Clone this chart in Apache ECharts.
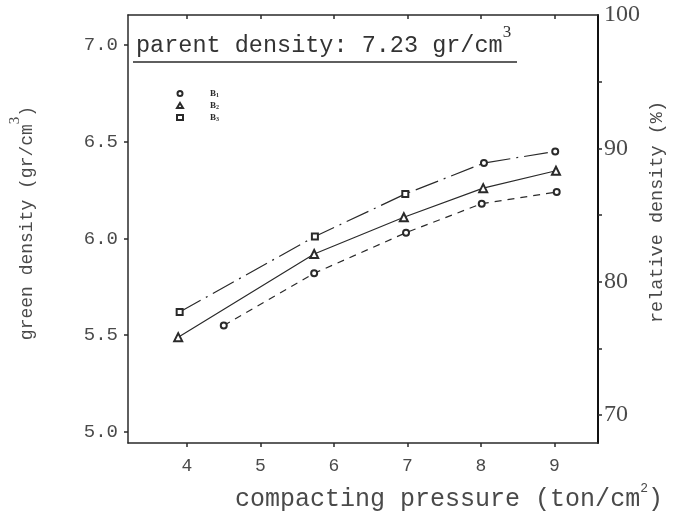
<!DOCTYPE html>
<html><head><meta charset="utf-8">
<script src="https://cdn.jsdelivr.net/npm/echarts@6/dist/echarts.min.js"></script>
<style>html,body{margin:0;padding:0;background:#fff}#c{width:675px;height:513px}</style>
</head><body><div id="c"></div>
<script>
const seriesNames = ['B1', 'B2', 'B3'];
const pressureB1 = [4.50, 5.73, 6.98, 8.01, 9.03];
const densityB1 = [5.55, 5.82, 6.03, 6.18, 6.24];
const pressureB2 = [3.88, 5.73, 6.95, 8.03, 9.02];
const densityB2 = [5.49, 5.92, 6.11, 6.26, 6.35];
const pressureB3 = [3.90, 5.74, 6.97, 8.04, 9.01];
const densityB3 = [5.62, 6.01, 6.23, 6.39, 6.45];
const xTicks = [4, 5, 6, 7, 8, 9];
const leftTicks = [5.0, 5.5, 6.0, 6.5, 7.0];
const rightTicks = [70, 75, 80, 85, 90, 95];
const rightLabels = [70, 80, 90, 100];
const parentDensity = '7.23';

const ink = '#2a2a2a';
const txt = '#4a4a4a';
const mono = '"Liberation Mono", "DejaVu Sans Mono", monospace';
const serif = '"Liberation Serif", "DejaVu Serif", serif';
const icons = ['emptyCircle', 'emptyTriangle', 'emptyRect'];

function pairs(xs, ys) { return xs.map((x, i) => [x, ys[i]]); }

const chart = echarts.init(document.getElementById('c'), null, { renderer: 'canvas' });
chart.setOption({
  animation: false,
  backgroundColor: '#fff',
  grid: { left: 128, right: 77, top: 15, bottom: 70, containLabel: false },
  xAxis: [{
    type: 'value', position: 'bottom', min: 3.197, max: 9.592,
    splitLine: { show: false },
    axisLine: { lineStyle: { color: ink, width: 1.5 } },
    axisTick: { customValues: xTicks, length: 4, lineStyle: { color: ink, width: 1.5 } },
    axisLabel: { customValues: xTicks, color: txt, fontFamily: mono, fontSize: 18, margin: 14 }
  }, {
    type: 'value', position: 'top', min: 3.197, max: 9.592,
    splitLine: { show: false },
    axisLine: { show: true, onZero: false, lineStyle: { color: ink, width: 1.5 } },
    axisTick: { customValues: xTicks, inside: true, length: 4, lineStyle: { color: ink, width: 1.5 } },
    axisLabel: { show: false }
  }],
  yAxis: [{
    type: 'value', position: 'left', min: 4.943, max: 7.155,
    splitLine: { show: false },
    axisLine: { show: true, lineStyle: { color: ink, width: 1.5 } },
    axisTick: { customValues: leftTicks, length: 4, lineStyle: { color: ink, width: 1.5 } },
    axisLabel: { customValues: leftTicks, formatter: v => v.toFixed(1), color: txt, fontFamily: mono, fontSize: 19, margin: 10 }
  }, {
    type: 'value', position: 'right', min: 67.9, max: 100,
    splitLine: { show: false },
    axisLine: { show: true, lineStyle: { color: '#111', width: 2 } },
    axisTick: { customValues: rightTicks, length: 4, lineStyle: { color: ink, width: 1.5 } },
    axisLabel: { customValues: rightLabels, color: txt, fontFamily: serif, fontSize: 24, margin: 6 }
  }],
  legend: {
    orient: 'vertical', left: 171, top: 84, itemGap: 3, itemWidth: 6, itemHeight: 5,
    data: seriesNames.map((n, i) => ({ name: n, icon: icons[i] })),
    itemStyle: { borderWidth: 1 },
    lineStyle: { opacity: 0 },
    formatter: n => '{b|B}{s|' + n.slice(1) + '}',
    textStyle: {
      color: ink,
      rich: {
        b: { fontSize: 9, fontWeight: 'bold', fontFamily: serif, color: ink, padding: [0, 0, 0, 22] },
        s: { fontSize: 6, fontWeight: 'bold', fontFamily: serif, color: ink, verticalAlign: 'bottom' }
      }
    }
  },
  series: [{
    name: seriesNames[0], type: 'line', data: pairs(pressureB1, densityB1),
    symbol: icons[0], symbolSize: 6,
    lineStyle: { color: ink, width: 1.2, type: [7, 6] },
    itemStyle: { color: ink, borderWidth: 1.2 }
  }, {
    name: seriesNames[1], type: 'line', data: pairs(pressureB2, densityB2),
    symbol: icons[1], symbolSize: 8,
    lineStyle: { color: ink, width: 1.2, type: 'solid' },
    itemStyle: { color: ink, borderWidth: 1.2 }
  }, {
    name: seriesNames[2], type: 'line', data: pairs(pressureB3, densityB3),
    symbol: (v, p) => (p && p.dataIndex >= 3) ? 'emptyCircle' : 'emptyRect', symbolSize: 6,
    lineStyle: { color: ink, width: 1.2, type: [24, 6, 2, 6] },
    itemStyle: { color: ink, borderWidth: 1.2 }
  }],
  graphic: [{
    type: 'text', left: 136, top: 24,
    style: {
      text: '{a|parent density: ' + parentDensity + ' gr/cm}{s|3}',
      rich: {
        a: { fontFamily: mono, fontSize: 23.5, fill: '#333', lineHeight: 34, verticalAlign: 'bottom' },
        s: { fontFamily: serif, fontSize: 17, fill: '#333', lineHeight: 34, verticalAlign: 'top' }
      }
    }
  }, {
    type: 'line', shape: { x1: 133, y1: 62, x2: 517, y2: 62 },
    style: { stroke: ink, lineWidth: 1.5 }
  }, {
    type: 'text', x: 22, y: 223, rotation: Math.PI / 2,
    style: {
      text: '{a|green density (gr/cm}{s|3}{a|)}', align: 'center', verticalAlign: 'middle',
      rich: {
        a: { fontFamily: mono, fontSize: 18, fill: txt, lineHeight: 28, verticalAlign: 'bottom' },
        s: { fontFamily: serif, fontSize: 15, fill: txt, lineHeight: 28, verticalAlign: 'top' }
      }
    }
  }, {
    type: 'text', x: 657, y: 212, rotation: Math.PI / 2,
    style: {
      text: 'relative density (%)', align: 'center', verticalAlign: 'middle',
      fontFamily: mono, fontSize: 18.5, fill: txt
    }
  }, {
    type: 'text', x: 449, y: 497,
    style: {
      text: '{a|compacting pressure (ton/cm}{s|2}{a|)}', align: 'center', verticalAlign: 'middle',
      rich: {
        a: { fontFamily: mono, fontSize: 25, fill: txt, lineHeight: 30, verticalAlign: 'bottom' },
        s: { fontFamily: mono, fontSize: 13, fill: txt, lineHeight: 30, verticalAlign: 'top' }
      }
    }
  }]
});
</script>
</body></html>
